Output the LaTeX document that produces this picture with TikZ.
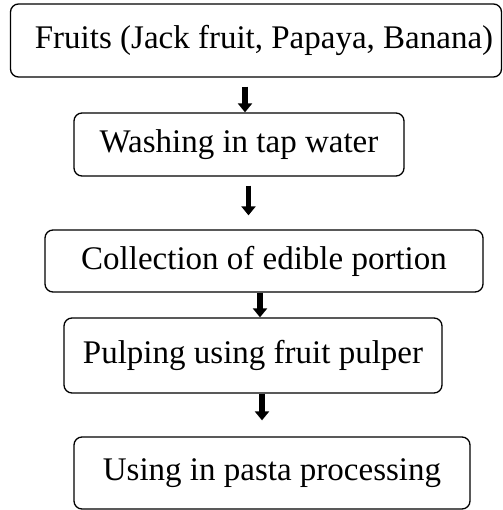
\documentclass[tikz,border=0pt]{standalone}
\usepackage{fontspec}
\setmainfont{Liberation Serif}
\usetikzlibrary{arrows.meta}

\tikzset{
    stepbox/.style={draw, line width=1.3pt, rounded corners=8pt, inner sep=0pt,
        font=\fontsize{33}{38}\selectfont},
    flowarrow/.style={line width=5.5pt, -{Triangle[width=14pt,length=9pt]}}
}

\begin{document}
\begin{tikzpicture}[x=1pt, y=-1pt]
            \useasboundingbox (0,0) rectangle (502,510);
            % process steps
            \node[stepbox, minimum width=491pt, minimum height=73pt] (fruits) at (256,40.5)
                {\hspace*{16pt}Fruits (Jack fruit, Papaya, Banana)};
            \node[stepbox, minimum width=330pt, minimum height=63pt] (wash) at (239,144.5)
                {Washing in tap water};
            \node[stepbox, minimum width=438pt, minimum height=62pt] (collect) at (264,261)
                {Collection of edible portion};
            \node[stepbox, minimum width=378pt, minimum height=75pt] (pulp) at (253,355.5)
                {Pulping using fruit pulper};
            \node[stepbox, minimum width=396pt, minimum height=72pt] (pasta) at (272,473)
                {Using in pasta processing};
            % arrow columns
            \coordinate (colA) at (245,0);
            \coordinate (colB) at (248.5,0);
            \coordinate (colC) at (260,0);
            \coordinate (colD) at (262,0);
            \draw[flowarrow, shorten <=9pt] (fruits.south -| colA) -- (wash.north -| colA);
            \draw[flowarrow, shorten <=9pt, shorten >=14pt] (wash.south -| colB) -- (collect.north -| colB);
            \draw[flowarrow] (collect.south -| colC) -- (pulp.north -| colC);
            \draw[flowarrow, shorten >=16pt] (pulp.south -| colD) -- (pasta.north -| colD);
        \end{tikzpicture}
\end{document}
